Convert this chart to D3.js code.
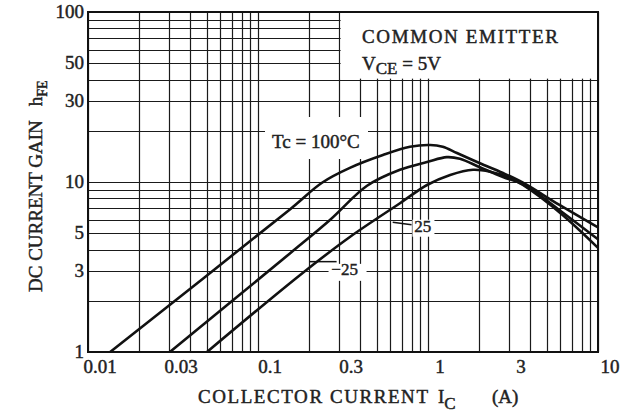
<!DOCTYPE html>
<html>
<head>
<meta charset="utf-8">
<script src="https://cdn.jsdelivr.net/npm/d3@7"></script>
<style>
  html, body { margin: 0; padding: 0; background: #fff; }
  svg { display: block; }
  text { font-family: "Liberation Serif", "DejaVu Serif", serif; fill: #222; stroke: #222; stroke-width: 0.45px; }
</style>
</head>
<body>
<div id="chart"></div>
<script>
// hFE vs IC, common emitter, VCE = 5V
const xTicks = [0.01, 0.03, 0.1, 0.3, 1, 3, 10];
const xTickLabels = ['0.01', '0.03', '0.1', '0.3', '1', '3', '10'];
const yTicks = [1, 3, 5, 10, 30, 50, 100];
const yTickLabels = ['1', '3', '5', '10', '30', '50', '100'];

// [IC (A), hFE]
const curve100 = [
  [0.0135, 1], [0.154, 6.9], [0.238, 9.9], [0.347, 12.1], [0.543, 14.4],
  [0.783, 16.1], [1.03, 16.5], [1.22, 16.1], [1.48, 14.8], [2.02, 12.9],
  [2.76, 11.3], [3.62, 9.9], [5.97, 7.3], [10, 5.4]
];
const curve25 = [
  [0.0303, 1], [0.154, 3.8], [0.266, 6.0], [0.438, 9.5], [0.684, 11.8],
  [0.987, 13.1], [1.29, 14.0], [1.54, 13.7], [2.02, 12.2], [2.76, 10.7],
  [3.62, 9.7], [5.97, 6.8], [10, 4.6]
];
const curveM25 = [
  [0.0501, 1], [0.177, 2.84], [0.347, 4.75], [0.684, 7.5], [0.987, 9.6],
  [1.35, 11.0], [1.84, 11.8], [2.32, 11.5], [3.03, 10.6], [3.62, 9.6],
  [5.97, 6.6], [10, 4.1]
];

const width = 621, height = 412;
const svg = d3.select('#chart').append('svg')
  .attr('width', width)
  .attr('height', height);

svg.append('rect').attr('width', width).attr('height', height).attr('fill', '#fff');

const x = d3.scaleLog().domain([0.01, 10]).range([88, 598]);
const y = d3.scaleLog().domain([1, 100]).range([352, 12]);

// grid lines, every 1..9 of each decade
const xGrid = [];
[0.01, 0.1, 1].forEach(d => { for (let m = 1; m < 10; m++) xGrid.push(d * m); });
xGrid.push(10);
const yGrid = [];
[1, 10].forEach(d => { for (let m = 1; m < 10; m++) yGrid.push(d * m); });
yGrid.push(100);

const grid = svg.append('g').attr('stroke', '#1a1a1a').attr('stroke-width', 1.2);
grid.selectAll('line.v').data(xGrid).enter().append('line')
  .attr('class', 'v')
  .attr('x1', d => Math.round(x(d)) + 0.5).attr('x2', d => Math.round(x(d)) + 0.5)
  .attr('y1', y(100)).attr('y2', y(1));
grid.selectAll('line.h').data(yGrid).enter().append('line')
  .attr('class', 'h')
  .attr('x1', x(0.01)).attr('x2', x(10))
  .attr('y1', d => Math.round(y(d)) + 0.5).attr('y2', d => Math.round(y(d)) + 0.5);

// white boxes behind the notes
svg.append('rect')
  .attr('x', x(0.3) + 1.5).attr('y', y(100))
  .attr('width', x(10) - x(0.3) - 1.5).attr('height', y(40) - y(100) - 1)
  .attr('fill', '#fff');
svg.append('rect')
  .attr('x', 265).attr('y', 117)
  .attr('width', 103).attr('height', 42)
  .attr('fill', '#fff');

// frame
svg.append('rect')
  .attr('x', x(0.01)).attr('y', y(100))
  .attr('width', x(10) - x(0.01)).attr('height', y(1) - y(100))
  .attr('fill', 'none').attr('stroke', '#111').attr('stroke-width', 2);

// curves
const line = d3.line()
  .x(d => x(d[0]))
  .y(d => y(d[1]))
  .curve(d3.curveCatmullRom.alpha(0.5));

svg.append('g').selectAll('path')
  .data([curve100, curve25, curveM25])
  .enter().append('path')
  .attr('d', line)
  .attr('fill', 'none')
  .attr('stroke', '#111')
  .attr('stroke-width', 2.6);

// tick labels
svg.append('g').selectAll('text')
  .data(xTicks)
  .enter().append('text')
  .attr('x', d => x(d) + 12)
  .attr('y', y(1) + 21)
  .attr('text-anchor', 'middle')
  .attr('font-size', 19)
  .text((d, i) => xTickLabels[i]);

svg.append('g').selectAll('text')
  .data(yTicks)
  .enter().append('text')
  .attr('x', x(0.01) - 4)
  .attr('y', d => y(d) + 6)
  .attr('text-anchor', 'end')
  .attr('font-size', 19)
  .text((d, i) => yTickLabels[i]);

// axis titles
const yTitle = svg.append('text')
  .attr('transform', 'translate(42,' + 292 + ') rotate(-90)')
  .attr('font-size', 19);
yTitle.append('tspan').text('DC CURRENT GAIN');
yTitle.append('tspan').attr('dx', 14).text('h');
yTitle.append('tspan').attr('dy', 5).attr('font-size', 14).text('FE');

const xTitle = svg.append('text')
  .attr('x', 198).attr('y', 403)
  .attr('font-size', 19);
xTitle.append('tspan').attr('textLength', 230).attr('lengthAdjust', 'spacing').text('COLLECTOR CURRENT');
xTitle.append('tspan').attr('x', 438).text('I');
xTitle.append('tspan').attr('dy', 6).attr('font-size', 17).text('C');
xTitle.append('tspan').attr('x', 492).attr('dy', -6).text('(A)');

// notes
svg.append('text')
  .attr('x', 362).attr('y', 43)
  .attr('font-size', 19)
  .attr('textLength', 196).attr('lengthAdjust', 'spacing')
  .text('COMMON EMITTER');
const vce = svg.append('text')
  .attr('x', 362).attr('y', 70)
  .attr('font-size', 19);
vce.append('tspan').text('V');
vce.append('tspan').attr('dy', 4).attr('font-size', 17).text('CE');
vce.append('tspan').attr('dy', -4).text(' = 5V');

svg.append('text')
  .attr('x', 272).attr('y', 148)
  .attr('font-size', 19)
  .text('Tc = 100°C');

// curve labels with leaders
svg.append('line')
  .attr('x1', x(0.62)).attr('y1', y(5.8))
  .attr('x2', x(0.8)).attr('y2', y(5.6))
  .attr('stroke', '#111').attr('stroke-width', 1.5);
svg.append('rect')
  .attr('x', x(0.81)).attr('y', y(6.0))
  .attr('width', 22).attr('height', 17).attr('fill', '#fff');
svg.append('text')
  .attr('x', x(0.83)).attr('y', y(5.08))
  .attr('font-size', 17)
  .text('25');

svg.append('line')
  .attr('x1', x(0.2)).attr('y1', y(3.4))
  .attr('x2', x(0.29)).attr('y2', y(3.4))
  .attr('stroke', '#111').attr('stroke-width', 1.5);
svg.append('rect')
  .attr('x', x(0.26)).attr('y', y(3.3))
  .attr('width', 38).attr('height', 17).attr('fill', '#fff');
svg.append('text')
  .attr('x', x(0.27)).attr('y', y(2.85))
  .attr('font-size', 17)
  .text('−25');
</script>
</body>
</html>
